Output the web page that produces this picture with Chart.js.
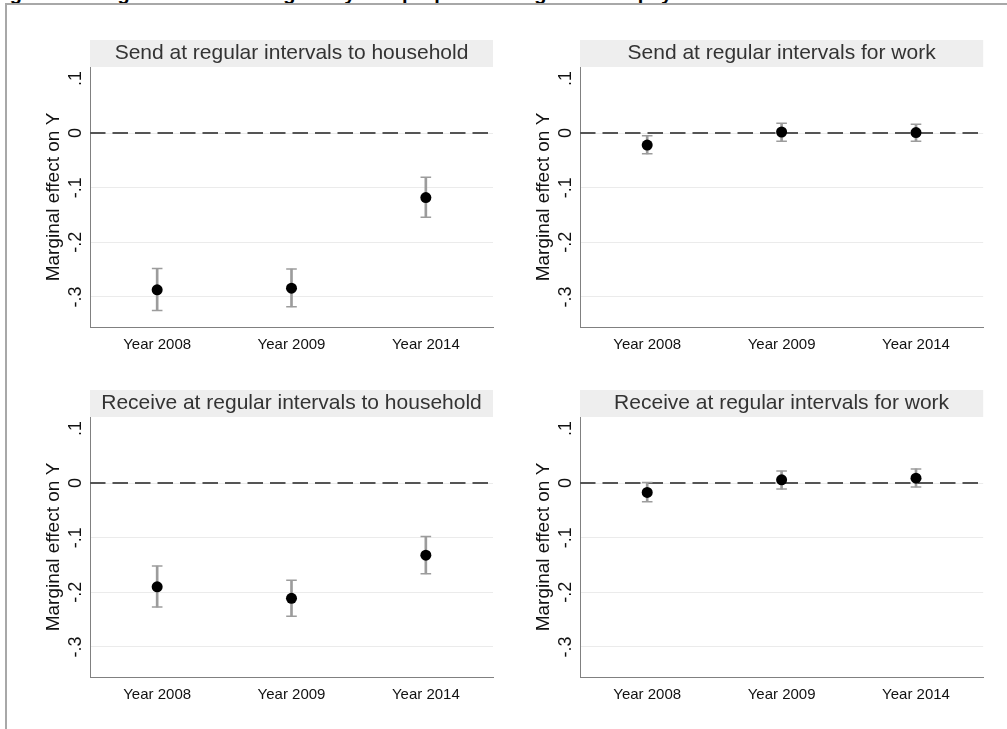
<!DOCTYPE html>
<html lang="en">
<head>
<meta charset="UTF-8">
<title>Marginal effects by year</title>
<script src="https://cdn.jsdelivr.net/npm/chart.js"></script>
<style>
  html, body { margin: 0; padding: 0; background: #fff; }
  body {
    width: 1007px;
    height: 729px;
    position: relative;
    overflow: hidden;
    font-family: 'Liberation Sans', Arial, sans-serif;
  }
  .frame {
    position: absolute;
    left: 5px;
    top: 3px;
    width: 1100px;
    height: 800px;
    border-top: 2px solid #a8a8a8;
    border-left: 2px solid #a8a8a8;
  }
  .fig-title {
    position: absolute;
    left: -8px;
    top: -17px;
    font-weight: bold;
    font-size: 20px;
    line-height: 20px;
    white-space: nowrap;
    color: #000;
  }
  canvas { position: absolute; }
</style>
</head>
<body>
  <div class="fig-title">Figure 5: Marginal effects of regularity and purpose of migration on payments</div>
  <div class="frame"></div>

  <canvas id="p1" width="470" height="310" style="left:30px; top:40px;"></canvas>
  <canvas id="p2" width="470" height="310" style="left:520px; top:40px;"></canvas>
  <canvas id="p3" width="470" height="310" style="left:30px; top:390px;"></canvas>
  <canvas id="p4" width="470" height="310" style="left:520px; top:390px;"></canvas>

<script>
  // categories and axis ticks
  const years = ['Year 2008', 'Year 2009', 'Year 2014'];
  const panelTitles = [
    'Send at regular intervals to household',
    'Send at regular intervals for work',
    'Receive at regular intervals to household',
    'Receive at regular intervals for work'
  ];
  const yTickValues = [-0.3, -0.2, -0.1, 0, 0.1];
  const yTickLabels = ['-.3', '-.2', '-.1', '0', '.1'];
  const refValue = 0;

  // estimates and confidence bounds
  const sendHouseholdEst = [-0.287, -0.284, -0.118];
  const sendHouseholdLow = [-0.325, -0.318, -0.154];
  const sendHouseholdHigh = [-0.248, -0.249, -0.081];

  const sendWorkEst = [-0.022, 0.002, 0.001];
  const sendWorkLow = [-0.038, -0.015, -0.015];
  const sendWorkHigh = [-0.005, 0.018, 0.016];

  const receiveHouseholdEst = [-0.190, -0.211, -0.132];
  const receiveHouseholdLow = [-0.227, -0.244, -0.166];
  const receiveHouseholdHigh = [-0.152, -0.178, -0.098];

  const receiveWorkEst = [-0.017, 0.006, 0.009];
  const receiveWorkLow = [-0.034, -0.011, -0.007];
  const receiveWorkHigh = [0.001, 0.022, 0.026];

  Chart.defaults.font.family = "'Liberation Sans', Arial, sans-serif";

  const ciColor = '#9c9c9c';
  const axisColor = '#808080';

  // grey strip behind each panel title
  const stripPlugin = {
    id: 'strip',
    beforeDraw(chart) {
      const t = chart.titleBlock;
      if (!t) return;
      const ctx = chart.ctx;
      ctx.save();
      ctx.fillStyle = '#eeeeee';
      ctx.fillRect(t.left, t.top, t.width, t.height);
      ctx.restore();
    }
  };

  // dashed reference line at y = 0
  const zeroLinePlugin = {
    id: 'zeroLine',
    beforeDatasetsDraw(chart, args, opts) {
      const { ctx, chartArea, scales } = chart;
      const y = scales.y.getPixelForValue(opts.value);
      ctx.save();
      ctx.strokeStyle = '#555555';
      ctx.lineWidth = 2;
      ctx.setLineDash([15.5, 7]);
      ctx.beginPath();
      ctx.moveTo(chartArea.left, y);
      ctx.lineTo(chartArea.right, y);
      ctx.stroke();
      ctx.restore();
    }
  };

  function makePanel(id, title, est, low, high, padRight) {
    new Chart(document.getElementById(id), {
      type: 'bar',
      data: {
        labels: years,
        datasets: [
          {
            type: 'line',
            data: est,
            showLine: false,
            pointRadius: 5.5,
            pointBackgroundColor: '#000',
            pointBorderWidth: 0,
            order: 0
          },
          {
            type: 'line',
            data: high,
            showLine: false,
            pointStyle: 'line',
            pointRadius: 5.3,
            pointBorderColor: ciColor,
            pointBorderWidth: 1.5,
            order: 1
          },
          {
            type: 'line',
            data: low,
            showLine: false,
            pointStyle: 'line',
            pointRadius: 5.3,
            pointBorderColor: ciColor,
            pointBorderWidth: 1.5,
            order: 1
          },
          {
            data: low.map((v, i) => [v, high[i]]),
            backgroundColor: ciColor,
            barThickness: 2,
            order: 2
          }
        ]
      },
      options: {
        responsive: false,
        animation: false,
        events: [],
        layout: { padding: { left: 0, right: padRight, top: 0, bottom: 0 } },
        plugins: {
          legend: { display: false },
          tooltip: { enabled: false },
          title: {
            display: true,
            text: title,
            fullSize: false,
            color: '#333',
            font: { size: 21, weight: 'normal' },
            padding: { top: 0.9, bottom: 0.9 }
          },
          zeroLine: { value: refValue }
        },
        scales: {
          x: {
            offset: true,
            grid: { display: false },
            border: { color: axisColor, width: 1 },
            ticks: { color: '#111', font: { size: 15 }, padding: 1 },
            afterFit: s => { s.height = 23; }
          },
          y: {
            min: -0.355,
            max: 0.121,
            afterBuildTicks: s => { s.ticks = yTickValues.map(v => ({ value: v })); },
            ticks: {
              callback: (v, i) => yTickLabels[i],
              minRotation: 90,
              maxRotation: 90,
              crossAlign: 'center',
              padding: 3,
              color: '#111',
              font: { size: 18 }
            },
            grid: {
              drawTicks: false,
              lineWidth: 1,
              color: c => (c.tick && c.tick.value > 0.05) ? 'rgba(0,0,0,0)' : '#ebebeb'
            },
            border: { color: axisColor, width: 1 },
            title: {
              display: true,
              text: 'Marginal effect on Y',
              color: '#111',
              font: { size: 19 },
              padding: { top: 12.6, bottom: 0 }
            },
            afterFit: s => { s.width = 60; }
          }
        }
      },
      plugins: [stripPlugin, zeroLinePlugin]
    });
  }

  makePanel('p1', panelTitles[0], sendHouseholdEst, sendHouseholdLow, sendHouseholdHigh, 7);
  makePanel('p2', panelTitles[1], sendWorkEst, sendWorkLow, sendWorkHigh, 6);
  makePanel('p3', panelTitles[2], receiveHouseholdEst, receiveHouseholdLow, receiveHouseholdHigh, 7);
  makePanel('p4', panelTitles[3], receiveWorkEst, receiveWorkLow, receiveWorkHigh, 6);
</script>
</body>
</html>
